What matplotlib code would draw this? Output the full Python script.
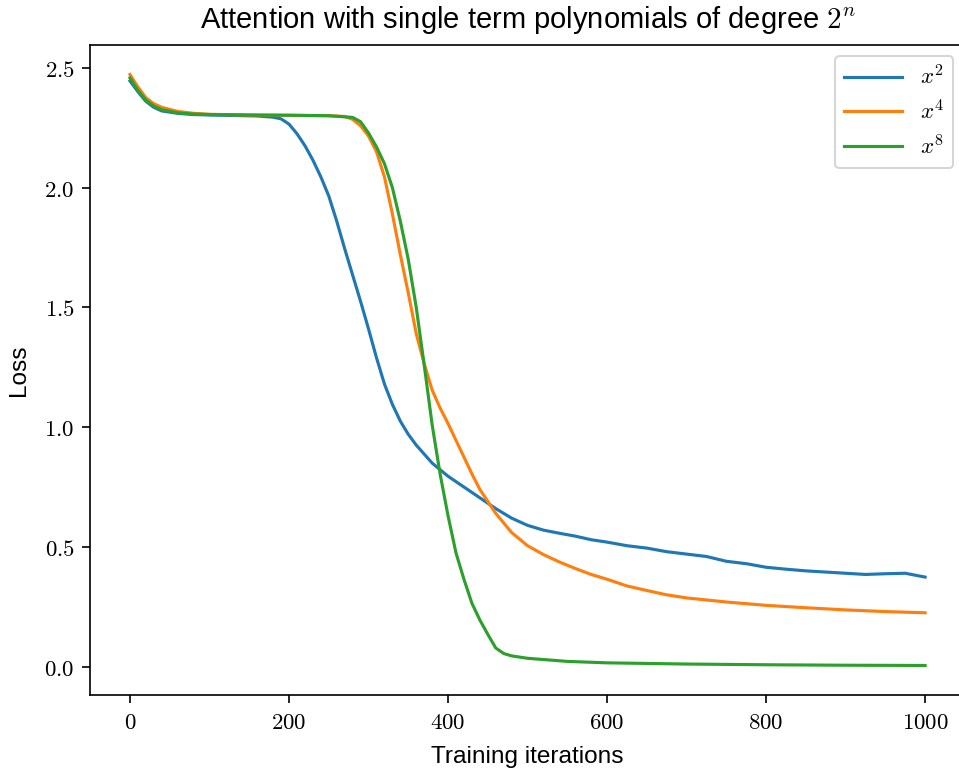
import matplotlib
matplotlib.use('Agg')
import matplotlib.pyplot as plt
from matplotlib.ticker import FuncFormatter

# loss curves
x_sq = [0, 10, 20, 30, 40, 60, 80, 100, 130, 160, 180, 190, 200, 210, 220, 230, 240,
        250, 260, 270, 280, 290, 300, 310, 320, 330, 340, 350, 360, 380, 400, 420, 440,
        460, 480, 500, 520, 540, 560, 580, 600, 625, 650, 675, 700, 725, 750, 775, 800,
        825, 850, 875, 900, 925, 950, 975, 1000]
loss_sq = [2.445, 2.40, 2.36, 2.335, 2.32, 2.31, 2.305, 2.303, 2.301, 2.299, 2.294, 2.287,
           2.265, 2.225, 2.175, 2.115, 2.045, 1.965, 1.86, 1.745, 1.635, 1.525, 1.41,
           1.29, 1.18, 1.095, 1.025, 0.97, 0.925, 0.85, 0.795, 0.75, 0.705, 0.66, 0.62,
           0.59, 0.57, 0.557, 0.545, 0.53, 0.52, 0.505, 0.495, 0.48, 0.47, 0.46, 0.44,
           0.43, 0.415, 0.407, 0.40, 0.395, 0.39, 0.385, 0.388, 0.39, 0.374]

x_quad = [0, 10, 20, 30, 40, 60, 80, 100, 150, 200, 250, 270, 280, 290, 300, 310, 320,
          330, 340, 350, 360, 370, 380, 390, 400, 410, 420, 430, 440, 450, 460, 480, 500,
          520, 540, 560, 580, 600, 625, 650, 675, 700, 750, 800, 850, 900, 950, 1000]
loss_quad = [2.472, 2.42, 2.375, 2.35, 2.335, 2.318, 2.31, 2.306, 2.303, 2.302, 2.30,
             2.297, 2.285, 2.258, 2.215, 2.15, 2.045, 1.89, 1.72, 1.56, 1.39, 1.265, 1.155,
             1.08, 1.015, 0.945, 0.875, 0.805, 0.74, 0.69, 0.64, 0.56, 0.505, 0.468, 0.437,
             0.41, 0.385, 0.365, 0.337, 0.318, 0.30, 0.287, 0.27, 0.256, 0.246, 0.237,
             0.23, 0.225]

x_oct = [0, 10, 20, 30, 40, 60, 80, 100, 150, 200, 250, 280, 290, 300, 310, 320, 330,
         340, 350, 360, 370, 380, 390, 400, 410, 420, 430, 440, 450, 460, 470, 480, 500,
         550, 600, 700, 800, 900, 1000]
loss_oct = [2.458, 2.405, 2.365, 2.34, 2.325, 2.312, 2.307, 2.305, 2.303, 2.302, 2.30,
            2.293, 2.275, 2.228, 2.17, 2.10, 2.0, 1.86, 1.70, 1.50, 1.26, 1.01, 0.805, 0.63,
            0.475, 0.365, 0.265, 0.195, 0.135, 0.078, 0.055, 0.045, 0.035, 0.022, 0.016,
            0.011, 0.008, 0.006, 0.005]

labels = [r'$x^2$', r'$x^4$', r'$x^8$']
colors = ['#1f77b4', '#ff7f0e', '#2ca02c']

plt.rcParams['font.family'] = ['Liberation Sans', 'DejaVu Sans']
plt.rcParams['mathtext.fontset'] = 'cm'

fig = plt.figure(figsize=(959 / 150, 769 / 150), dpi=150)
# axes runs a bit past the right edge, as in the cropped reference
ax = fig.add_axes([0.0941, 0.0962, 0.912, 0.8453])

ax.plot(x_sq, loss_sq, color=colors[0], label=labels[0])
ax.plot(x_quad, loss_quad, color=colors[1], label=labels[1])
ax.plot(x_oct, loss_oct, color=colors[2], label=labels[2])

ax.set_xticks([0, 200, 400, 600, 800, 1000])
ax.set_yticks([0.0, 0.5, 1.0, 1.5, 2.0, 2.5])
ax.xaxis.set_major_formatter(FuncFormatter(lambda v, p: '$%d$' % v))
ax.yaxis.set_major_formatter(FuncFormatter(lambda v, p: '$%.1f$' % v))
ax.tick_params(labelsize=11, length=4)

ax.set_xlabel('Training iterations', fontsize=11.7, labelpad=6)
ax.set_ylabel('Loss', fontsize=11.7, labelpad=7)
ax.set_title(r'Attention with single term polynomials of degree $2^n$', fontsize=14, pad=8)
ax.legend(loc='upper right', fontsize=11, handlelength=2.5, labelspacing=0.45)

fig.savefig('out.png', dpi=150)
